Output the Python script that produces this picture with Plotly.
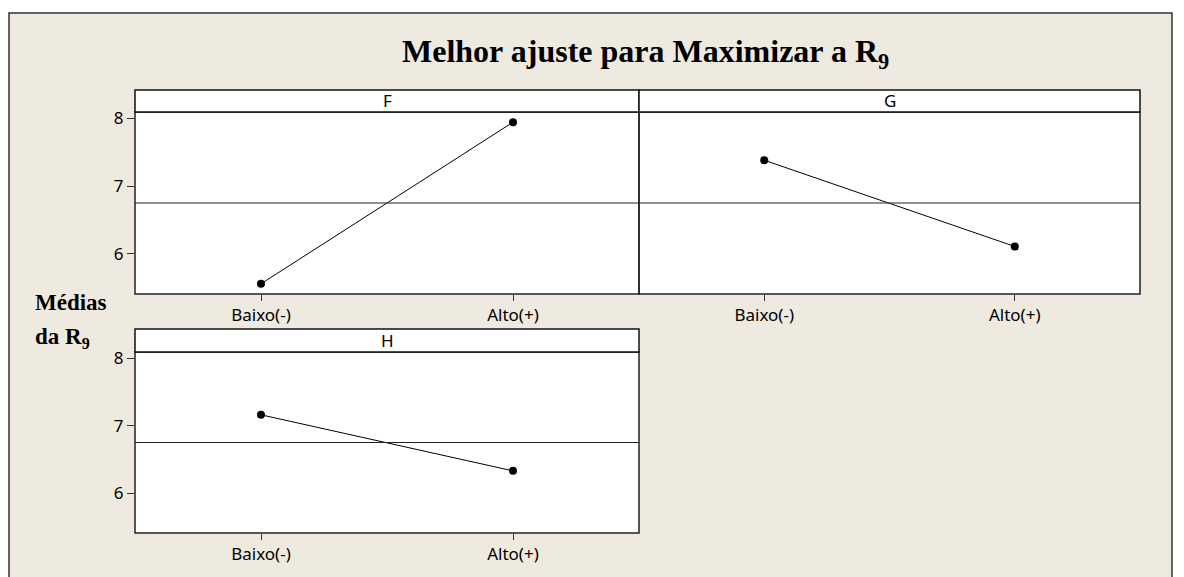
import plotly.graph_objects as go

# niveis dos fatores e medias da resposta R9
niveis = ["Baixo(-)", "Alto(+)"]
fatores = ["F", "G", "H"]
media_f = [5.56, 7.94]
media_g = [7.38, 6.11]
media_h = [7.16, 6.33]
media_geral = 6.75
y_ticks = [6, 7, 8]

W, H = 1184, 577
BG = "#EEEAE0"


def px(x):
    return x / W


def py(y):
    return 1 - y / H


# fator, medias, (x0, x1) pixels, topo do cabecalho, topo dos dados, base
paineis = [
    ("F", media_f, 135, 639, 90, 112, 294),
    ("G", media_g, 639, 1140, 90, 112, 294),
    ("H", media_h, 135, 639, 329, 352, 533),
]

fig = go.Figure()
shapes = []
annotations = []

# faixas brancas fora da moldura
shapes.append(dict(type="rect", xref="paper", yref="paper", x0=0, x1=1, y0=py(13), y1=1,
                   fillcolor="white", line_width=0, layer="below"))
shapes.append(dict(type="rect", xref="paper", yref="paper", x0=0, x1=px(9), y0=0, y1=1,
                   fillcolor="white", line_width=0, layer="below"))
shapes.append(dict(type="rect", xref="paper", yref="paper", x0=px(1172), x1=1, y0=0, y1=1,
                   fillcolor="white", line_width=0, layer="below"))
# moldura
shapes.append(dict(type="path", xref="paper", yref="paper",
                   path=f"M {px(9)} 0 L {px(9)} {py(13)} L {px(1172)} {py(13)} L {px(1172)} 0",
                   line=dict(color="#333333", width=1.5)))

tickfont = dict(family="Noto Sans", size=17, color="black")

for i, (fator, medias, x0, x1, htop, dtop, bot) in enumerate(paineis):
    n = "" if i == 0 else str(i + 1)
    xa, ya = "x" + n, "y" + n
    fig.add_trace(go.Scatter(
        x=niveis, y=medias, xaxis=xa, yaxis=ya, mode="lines+markers",
        line=dict(color="black", width=1),
        marker=dict(color="black", size=8),
        showlegend=False, hoverinfo="x+y"))

    mostra_y = fator != "G"
    fig.update_layout({
        "xaxis" + n: dict(
            domain=[px(x0), px(x1)], anchor=ya, type="category",
            categoryorder="array", categoryarray=niveis, range=[-0.5, 1.5],
            showline=False, ticks="outside", ticklen=6, tickcolor="#333333", tickwidth=1,
            showgrid=False, zeroline=False, tickfont=tickfont, automargin=False),
        "yaxis" + n: dict(
            domain=[py(bot), py(dtop)], anchor=xa, range=[5.41, 8.09],
            tickvals=y_ticks, showticklabels=mostra_y,
            ticks="outside" if mostra_y else "", ticklen=7, tickcolor="#333333", tickwidth=1,
            showline=False, showgrid=False, zeroline=False, tickfont=tickfont,
            automargin=False),
    })

    # linha da media geral
    shapes.append(dict(type="line", xref=xa + " domain", yref=ya, x0=0, x1=1,
                       y0=media_geral, y1=media_geral,
                       line=dict(color="#222222", width=1)))
    # borda do painel
    shapes.append(dict(type="rect", xref="paper", yref="paper",
                       x0=px(x0), x1=px(x1), y0=py(bot), y1=py(dtop),
                       line=dict(color="#222222", width=1.5)))
    # cabecalho do painel
    shapes.append(dict(type="rect", xref="paper", yref="paper",
                       x0=px(x0), x1=px(x1), y0=py(dtop), y1=py(htop),
                       fillcolor="white", line=dict(color="#111111", width=1.5)))
    annotations.append(dict(text=fator, xref="paper", yref="paper",
                            x=px((x0 + x1) / 2), y=py((htop + dtop) / 2),
                            xanchor="center", yanchor="middle", showarrow=False,
                            font=dict(family="Noto Sans", size=17, color="black")))

serif = "Liberation Serif"
annotations.append(dict(text="<b>Melhor ajuste para Maximizar a R<sub>9</sub></b>",
                        xref="paper", yref="paper", x=px(645), y=py(53),
                        xanchor="center", yanchor="middle", showarrow=False,
                        font=dict(family=serif, size=32, color="black")))
annotations.append(dict(text="<b>Médias</b>", xref="paper", yref="paper",
                        x=px(33), y=py(302), xanchor="left", yanchor="middle",
                        showarrow=False, font=dict(family=serif, size=23, color="black")))
annotations.append(dict(text="<b>da R<sub>9</sub></b>", xref="paper", yref="paper",
                        x=px(33), y=py(338), xanchor="left", yanchor="middle",
                        showarrow=False, font=dict(family=serif, size=23, color="black")))

fig.update_layout(
    width=W, height=H,
    margin=dict(l=0, r=0, t=0, b=0, pad=0, autoexpand=False),
    paper_bgcolor=BG, plot_bgcolor="white",
    shapes=shapes, annotations=annotations,
)

fig.write_html("out.html", config={"displayModeBar": False},
               post_script="document.body.style.margin='0';")
